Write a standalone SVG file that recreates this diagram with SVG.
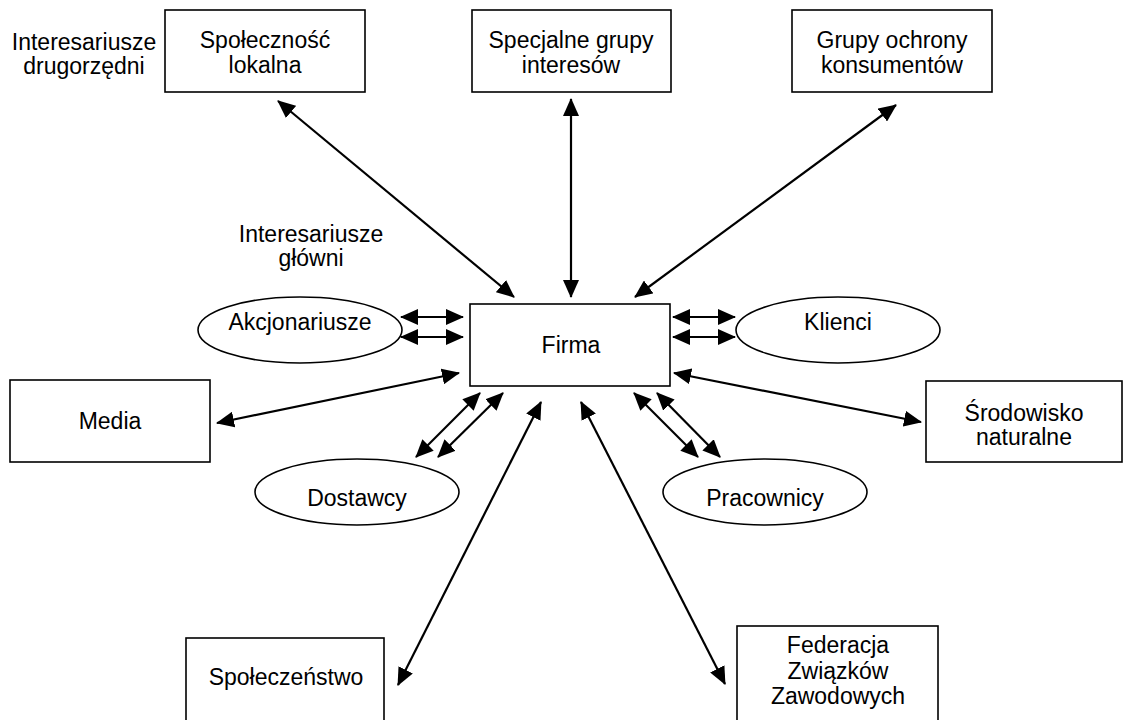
<svg xmlns="http://www.w3.org/2000/svg" width="1123" height="720" viewBox="0 0 1123 720">
  <style>
    .box { fill: #fff; stroke: #000; stroke-width: 1.6; }
    .t { font-family: "Liberation Sans", Arial, sans-serif; font-size: 23px; fill: #000; text-anchor: middle; }
    .c { stroke: #000; stroke-width: 2.2; fill: none; marker-start: url(#ah); marker-end: url(#ah); }
  </style>
  <defs>
    <marker id="ah" viewBox="0 0 18 16" refX="17" refY="8" markerWidth="18" markerHeight="16" markerUnits="userSpaceOnUse" orient="auto-start-reverse">
      <path d="M0,0 L18,8 L0,16 z" fill="#000"/>
    </marker>
  </defs>
  <rect width="1123" height="720" fill="#fff"/>

  <!-- free labels -->
  <g id="label-secondary">
    <text class="t" x="84" y="50">Interesariusze</text>
    <text class="t" x="84" y="74">drugorzędni</text>
  </g>
  <g id="label-primary">
    <text class="t" x="311" y="242">Interesariusze</text>
    <text class="t" x="311" y="266">główni</text>
  </g>

  <!-- connectors -->
  <g id="connectors">
    <line class="c" x1="278" y1="101" x2="514" y2="297"/>
    <line class="c" x1="571" y1="99" x2="571" y2="297"/>
    <line class="c" x1="896" y1="105" x2="635" y2="297"/>
    <line class="c" x1="401" y1="317" x2="463" y2="317"/>
    <line class="c" x1="401" y1="337" x2="463" y2="337"/>
    <line class="c" x1="673" y1="317" x2="735" y2="317"/>
    <line class="c" x1="673" y1="337" x2="735" y2="337"/>
    <line class="c" x1="459" y1="373" x2="217" y2="423"/>
    <line class="c" x1="674" y1="373" x2="921" y2="422"/>
    <line class="c" x1="480" y1="393" x2="416" y2="457"/>
    <line class="c" x1="503" y1="393" x2="438" y2="457"/>
    <line class="c" x1="634" y1="393" x2="698" y2="457"/>
    <line class="c" x1="657" y1="393" x2="720" y2="457"/>
    <line class="c" x1="541" y1="402" x2="398" y2="685"/>
    <line class="c" x1="581" y1="402" x2="725" y2="684"/>
  </g>

  <!-- secondary stakeholders (rectangles) -->
  <g id="spolecznosc">
    <rect class="box" x="165" y="10" width="200" height="82"/>
    <text class="t" x="265" y="48">Społeczność</text>
    <text class="t" x="265" y="73">lokalna</text>
  </g>
  <g id="specjalne">
    <rect class="box" x="472" y="10" width="199" height="82"/>
    <text class="t" x="571" y="48">Specjalne grupy</text>
    <text class="t" x="571" y="73">interesów</text>
  </g>
  <g id="konsumenci">
    <rect class="box" x="792" y="10" width="200" height="82"/>
    <text class="t" x="892" y="48">Grupy ochrony</text>
    <text class="t" x="892" y="73">konsumentów</text>
  </g>
  <g id="media">
    <rect class="box" x="10" y="380" width="200" height="82"/>
    <text class="t" x="110" y="429">Media</text>
  </g>
  <g id="srodowisko">
    <rect class="box" x="926" y="381" width="196" height="81"/>
    <text class="t" x="1024" y="421">Środowisko</text>
    <text class="t" x="1024" y="445">naturalne</text>
  </g>
  <g id="spoleczenstwo">
    <rect class="box" x="186" y="638" width="198" height="90"/>
    <text class="t" x="286" y="685">Społeczeństwo</text>
  </g>
  <g id="federacja">
    <rect class="box" x="737" y="626" width="201" height="102"/>
    <text class="t" x="838" y="653">Federacja</text>
    <text class="t" x="838" y="679">Związków</text>
    <text class="t" x="838" y="704">Zawodowych</text>
  </g>

  <!-- company -->
  <g id="firma">
    <rect class="box" x="470" y="304" width="200" height="82"/>
    <text class="t" x="571" y="353">Firma</text>
  </g>

  <!-- primary stakeholders (ellipses) -->
  <g id="akcjonariusze">
    <ellipse class="box" cx="300" cy="330" rx="102" ry="33"/>
    <text class="t" x="300" y="330">Akcjonariusze</text>
  </g>
  <g id="klienci">
    <ellipse class="box" cx="838" cy="330" rx="102" ry="33"/>
    <text class="t" x="838" y="330">Klienci</text>
  </g>
  <g id="dostawcy">
    <ellipse class="box" cx="357" cy="492" rx="102" ry="33"/>
    <text class="t" x="357" y="506">Dostawcy</text>
  </g>
  <g id="pracownicy">
    <ellipse class="box" cx="765" cy="492" rx="102" ry="33"/>
    <text class="t" x="765" y="506">Pracownicy</text>
  </g>
</svg>
